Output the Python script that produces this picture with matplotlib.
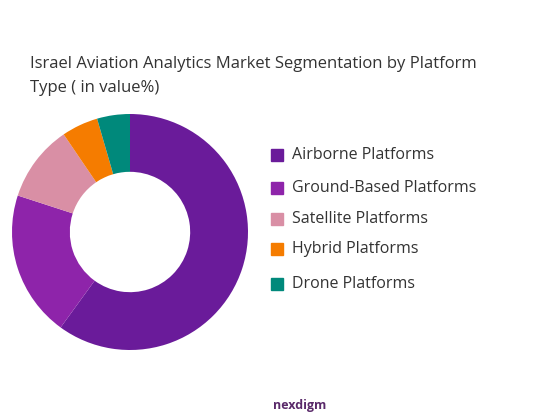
import matplotlib
matplotlib.use("Agg")
import matplotlib.pyplot as plt

categories = ["Airborne Platforms", "Ground-Based Platforms", "Satellite Platforms", "Hybrid Platforms", "Drone Platforms"]
values = [60, 20, 10.5, 5, 4.5]
colors = ["#6A1B9A", "#8E24AA", "#D98FA5", "#F57C00", "#00897B"]

plt.rcParams['font.family'] = ['Open Sans', 'DejaVu Sans']
fig = plt.figure(figsize=(5.59, 4.17), dpi=100)
ax = fig.add_axes([130/559 - 118/559, 1 - (232+118)/417, 236/559, 236/417])
ax.pie(values, colors=colors, startangle=90, counterclock=False,
       wedgeprops=dict(width=0.49, edgecolor='none'))
ax.set_xlim(-1, 1)
ax.set_ylim(-1, 1)
ax.set_aspect('equal')
fig.text(30/559, 1 - 76/417, "Israel Aviation Analytics Market Segmentation by Platform\nType ( in value%)",
         fontsize=12, color="#333333", va='center', linespacing=1.6)
ys = [155, 188, 219, 249, 284]
for c, col, y in zip(categories, colors, ys):
    fig.patches.append(plt.Rectangle((271/559, 1 - (y+6)/417), 12/559, 12/417,
                                     transform=fig.transFigure, color=col))
    fig.text(292/559, 1 - y/417, c, fontsize=11.5, color="#333333", va='center')
fig.text(300/559, 1 - 405/417, "nexdigm", fontsize=9, color="#5a2a6a", ha='center', va='center', weight='bold')
fig.savefig("out.png", dpi=100, facecolor='white')
